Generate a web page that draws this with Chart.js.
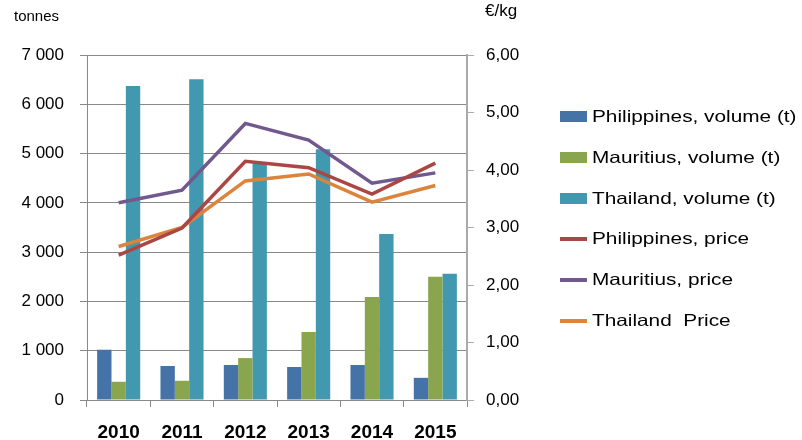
<!DOCTYPE html>
<html>
<head>
<meta charset="utf-8">
<script src="https://cdn.jsdelivr.net/npm/chart.js@4"></script>
<style>
  html, body { margin:0; padding:0; background:#fff; }
  #wrap { position:relative; width:802px; height:440px; }
  #legend { position:absolute; left:560px; top:96px; margin:0; padding:0; list-style:none;
    font-family:'Liberation Sans', Arial, sans-serif; font-size:16.5px; color:#000; }
  #legend li { height:40.8px; line-height:40px; white-space:pre; }
  #legend .sw { display:inline-block; width:27px; vertical-align:middle; margin-right:5px; position:relative; top:-1px; }
  #legend .tx { display:inline-block; transform:scaleX(1.26); transform-origin:left center; }
</style>
</head>
<body>
<div id="wrap"><canvas id="chart" width="802" height="440"></canvas><ul id="legend"></ul></div>
<script>
var years = ['2010', '2011', '2012', '2013', '2014', '2015'];

var phil_volume = [1020, 690, 710, 670, 710, 450];
var maur_volume = [370, 390, 850, 1380, 2090, 2500];
var thai_volume = [6370, 6510, 4800, 5090, 3370, 2560];

var phil_price = [2.52, 2.99, 4.15, 4.04, 3.58, 4.12];
var maur_price = [3.43, 3.65, 4.81, 4.52, 3.77, 3.95];
var thai_price = [2.67, 3.00, 3.81, 3.93, 3.44, 3.73];

var FONT = "'Liberation Sans', Arial, sans-serif";

function bar(label, data, color) {
	return { type:'bar', label:label, data:data, yAxisID:'y', backgroundColor:color,
		borderWidth:0, categoryPercentage:0.68, barPercentage:1.0, order:2 };
}
function line(label, data, color) {
	return { type:'line', label:label, data:data, yAxisID:'y1', borderColor:color,
		backgroundColor:color, borderWidth:3.5, pointRadius:0, tension:0, fill:false, order:1 };
}

var datasets = [
	bar('Philippines, volume (t)', phil_volume, '#4572A7'),
	bar('Mauritius, volume (t)', maur_volume, '#89A54E'),
	bar('Thailand, volume (t)', thai_volume, '#4198AF'),
	line('Philippines, price', phil_price, '#AA4643'),
	line('Mauritius, price', maur_price, '#71588F'),
	line('Thailand  Price', thai_price, '#DB843D')
];

// axis unit captions above each value axis
var captions = {
	id: 'captions',
	afterDraw: function(chart) {
		var ctx = chart.ctx;
		ctx.save();
		ctx.fillStyle = '#000';
		ctx.textBaseline = 'alphabetic';
		ctx.textAlign = 'left';
		ctx.font = '15px ' + FONT;
		ctx.fillText('tonnes', 14, 21);
		ctx.font = '17px ' + FONT;
		ctx.fillText('\u20ac/kg', 485, 16);
		ctx.restore();
	}
};

var chart = new Chart(document.getElementById('chart'), {
	data: { labels: years, datasets: datasets },
	plugins: [captions],
	options: {
		responsive: false,
		animation: false,
		layout: { padding: { top: 55, right: 245, bottom: 0, left: 0 } },
		plugins: {
			tooltip: { enabled: false },
			title: { display: false },
			legend: { display: false }
		},
		scales: {
			x: {
				grid: { display: true, offset: true, drawOnChartArea: false, color: '#888', tickLength: 7 },
				border: { color: '#888' },
				ticks: { color: '#000', font: { family: FONT, size: 19, weight: 'bold' }, padding: 14 },
				afterFit: function(s) { s.height = 40; }
			},
			y: {
				position: 'left',
				min: 0, max: 7000,
				ticks: {
					stepSize: 1000, color: '#000', padding: 16,
					font: { family: FONT, size: 17 },
					callback: function(v) { return v >= 1000 ? Math.floor(v / 1000) + ' 000' : String(v); }
				},
				grid: { color: '#888', tickLength: 7 },
				border: { color: '#888' },
				afterFit: function(s) { s.width = 87; }
			},
			y1: {
				position: 'right',
				min: 0, max: 6,
				ticks: {
					stepSize: 1, color: '#000', padding: 12,
					font: { family: FONT, size: 17 },
					callback: function(v) { return v.toFixed(2).replace('.', ','); }
				},
				grid: { drawOnChartArea: false, color: '#aaa', tickLength: 7 },
				border: { color: '#aaa', width: 2 },
				afterFit: function(s) { s.width = 90; }
			}
		}
	}
});

// legend built from the chart's datasets
var ul = document.getElementById('legend');
chart.data.datasets.forEach(function(ds) {
	var li = document.createElement('li');
	var sw = document.createElement('span');
	sw.className = 'sw';
	if (ds.type === 'bar') {
		sw.style.height = '11px';
		sw.style.background = ds.backgroundColor;
	} else {
		sw.style.height = '4px';
		sw.style.background = ds.borderColor;
	}
	var tx = document.createElement('span');
	tx.className = 'tx';
	tx.textContent = ds.label;
	li.appendChild(sw);
	li.appendChild(tx);
	ul.appendChild(li);
});
</script>
</body>
</html>
